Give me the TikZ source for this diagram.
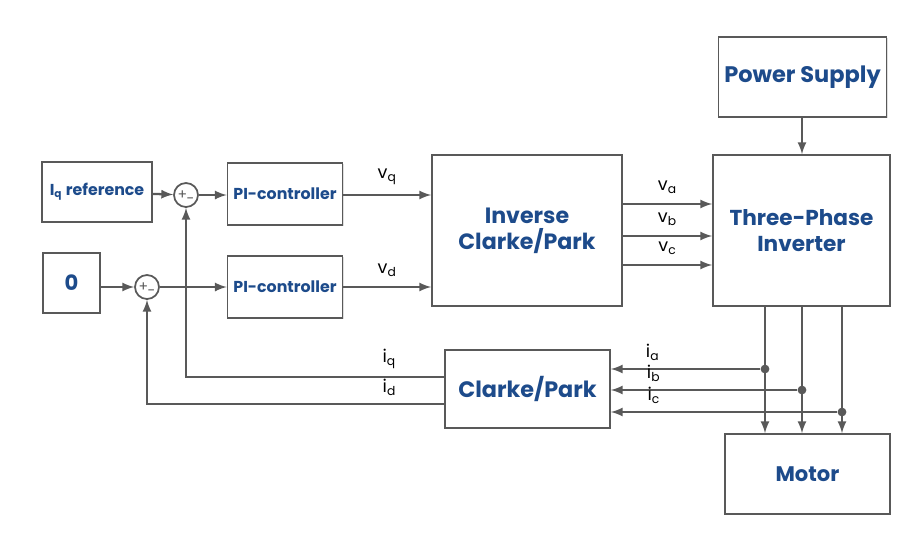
\documentclass[tikz,border=0pt]{standalone}
\usepackage{fontspec}
\setmainfont{Poppins}
\usetikzlibrary{shadows}
\definecolor{txtblue}{HTML}{1D4B8B}
\definecolor{linegray}{HTML}{595959}
\tikzset{
  blk/.style={draw=linegray, line width=1pt, fill=white, align=center, text=txtblue,
    font=\bfseries, drop shadow={opacity=0.25, shadow xshift=0.8pt, shadow yshift=-0.8pt}},
  sumnode/.style={draw=linegray, circle, line width=1pt, fill=white, minimum size=0.48cm, inner sep=0pt},
  sig/.style={font=\footnotesize, text=linegray},
  wire/.style={draw=linegray, line width=1.3pt},
  dot/.style={circle, fill=linegray, inner sep=0pt, minimum size=5pt}
}
\begin{document}
\begin{tikzpicture}[>=latex, x=0.02cm, y=-0.02cm]
\useasboundingbox (0,0) rectangle (914,532);
% blocks
\node[blk, minimum width=2.2cm, minimum height=1.2cm, font=\bfseries\small] (iqref) at (97,192) {I\textsubscript{q} reference};
\node[blk, minimum width=1.14cm, minimum height=1.2cm, font=\bfseries\large] (zero) at (71.5,283) {0};
\node[sumnode] (sumq) at (186,195) {};
\node[sumnode] (sumd) at (147,287) {};
\node[blk, minimum width=2.2cm, minimum height=1.24cm, font=\bfseries\small] (piq) at (285,194) {PI-controller};
\node[blk, minimum width=2.2cm, minimum height=1.24cm, font=\bfseries\small] (pid) at (285,287) {PI-controller};
\node[blk, minimum width=3.8cm, minimum height=3.02cm, font=\bfseries\fontsize{12.6}{15}\selectfont] (inv) at (527,230.5) {Inverse\\Clarke/Park};
\node[blk, minimum width=3.54cm, minimum height=3.02cm, font=\bfseries\fontsize{12.3}{15}\selectfont] (tpi) at (801.5,230.5) {Three-Phase\\Inverter};
\node[blk, minimum width=3.3cm, minimum height=1.6cm, font=\bfseries\fontsize{12.8}{15}\selectfont] (ps) at (802.5,77) {Power Supply};
\node[blk, minimum width=3.3cm, minimum height=1.56cm, font=\bfseries\fontsize{12.7}{15}\selectfont] (cp) at (527.5,389) {Clarke/Park};
\node[blk, minimum width=3.3cm, minimum height=1.6cm, font=\bfseries\large] (motor) at (807.5,474) {Motor};
% signs
\node[sig] at ([xshift=-2pt]sumq.center) {+};
\node[sig] at ([xshift=2.5pt,yshift=-3pt]sumq.center) {-};
\node[sig] at ([xshift=-2pt]sumd.center) {+};
\node[sig] at ([xshift=2.5pt,yshift=-3pt]sumd.center) {-};

% forward path
\draw[wire,->] (iqref) -- (sumq);
\draw[wire,->] (zero.east|-sumd) -- (sumd);
\draw[wire,->] (sumq) -- (piq.west|-sumq);
\draw[wire,->] (sumd) -- (pid.west|-sumd);
\draw[wire,->] (piq.east|-sumq) -- (inv.west|-sumq) node[midway,above=2pt]{v\textsubscript{q}};
\draw[wire,->] (pid.east|-sumd) -- (inv.west|-sumd) node[midway,above=2pt]{v\textsubscript{d}};
\draw[wire,->] (inv.east|-0,204) -- (tpi.west|-0,204) node[midway,above=2pt]{v\textsubscript{a}};
\draw[wire,->] (inv.east|-0,236) -- (tpi.west|-0,236) node[midway,above=2pt]{v\textsubscript{b}};
\draw[wire,->] (inv.east|-0,265) -- (tpi.west|-0,265) node[midway,above=2pt]{v\textsubscript{c}};
\draw[wire,->] (ps.south-|802,0) -- (tpi.north-|802,0);

% inverter to motor
\draw[wire,->] (tpi.south-|765,0) -- (motor.north-|765,0);
\draw[wire,->] (tpi.south-|802,0) -- (motor.north-|802,0);
\draw[wire,->] (tpi.south-|842,0) -- (motor.north-|842,0);

% measured currents
\node[dot] (ja) at (765,369) {};
\node[dot] (jb) at (802,390) {};
\node[dot] (jc) at (842,412) {};
\draw[wire,->] (ja) -- (cp.east|-ja) node[pos=0.72,above=1pt]{i\textsubscript{a}};
\draw[wire,->] (jb) -- (cp.east|-jb) node[pos=0.77,above=1pt]{i\textsubscript{b}};
\draw[wire,->] (jc) -- (cp.east|-jc) node[pos=0.81,above=1pt]{i\textsubscript{c}};

% feedback
\draw[wire,->] (cp.west|-0,377) -| (sumq.south) node[pos=0.106,above=1pt]{i\textsubscript{q}};
\draw[wire,->] (cp.west|-0,404) -| (sumd.south) node[pos=0.092,above=1pt]{i\textsubscript{d}};
\end{tikzpicture}
\end{document}
